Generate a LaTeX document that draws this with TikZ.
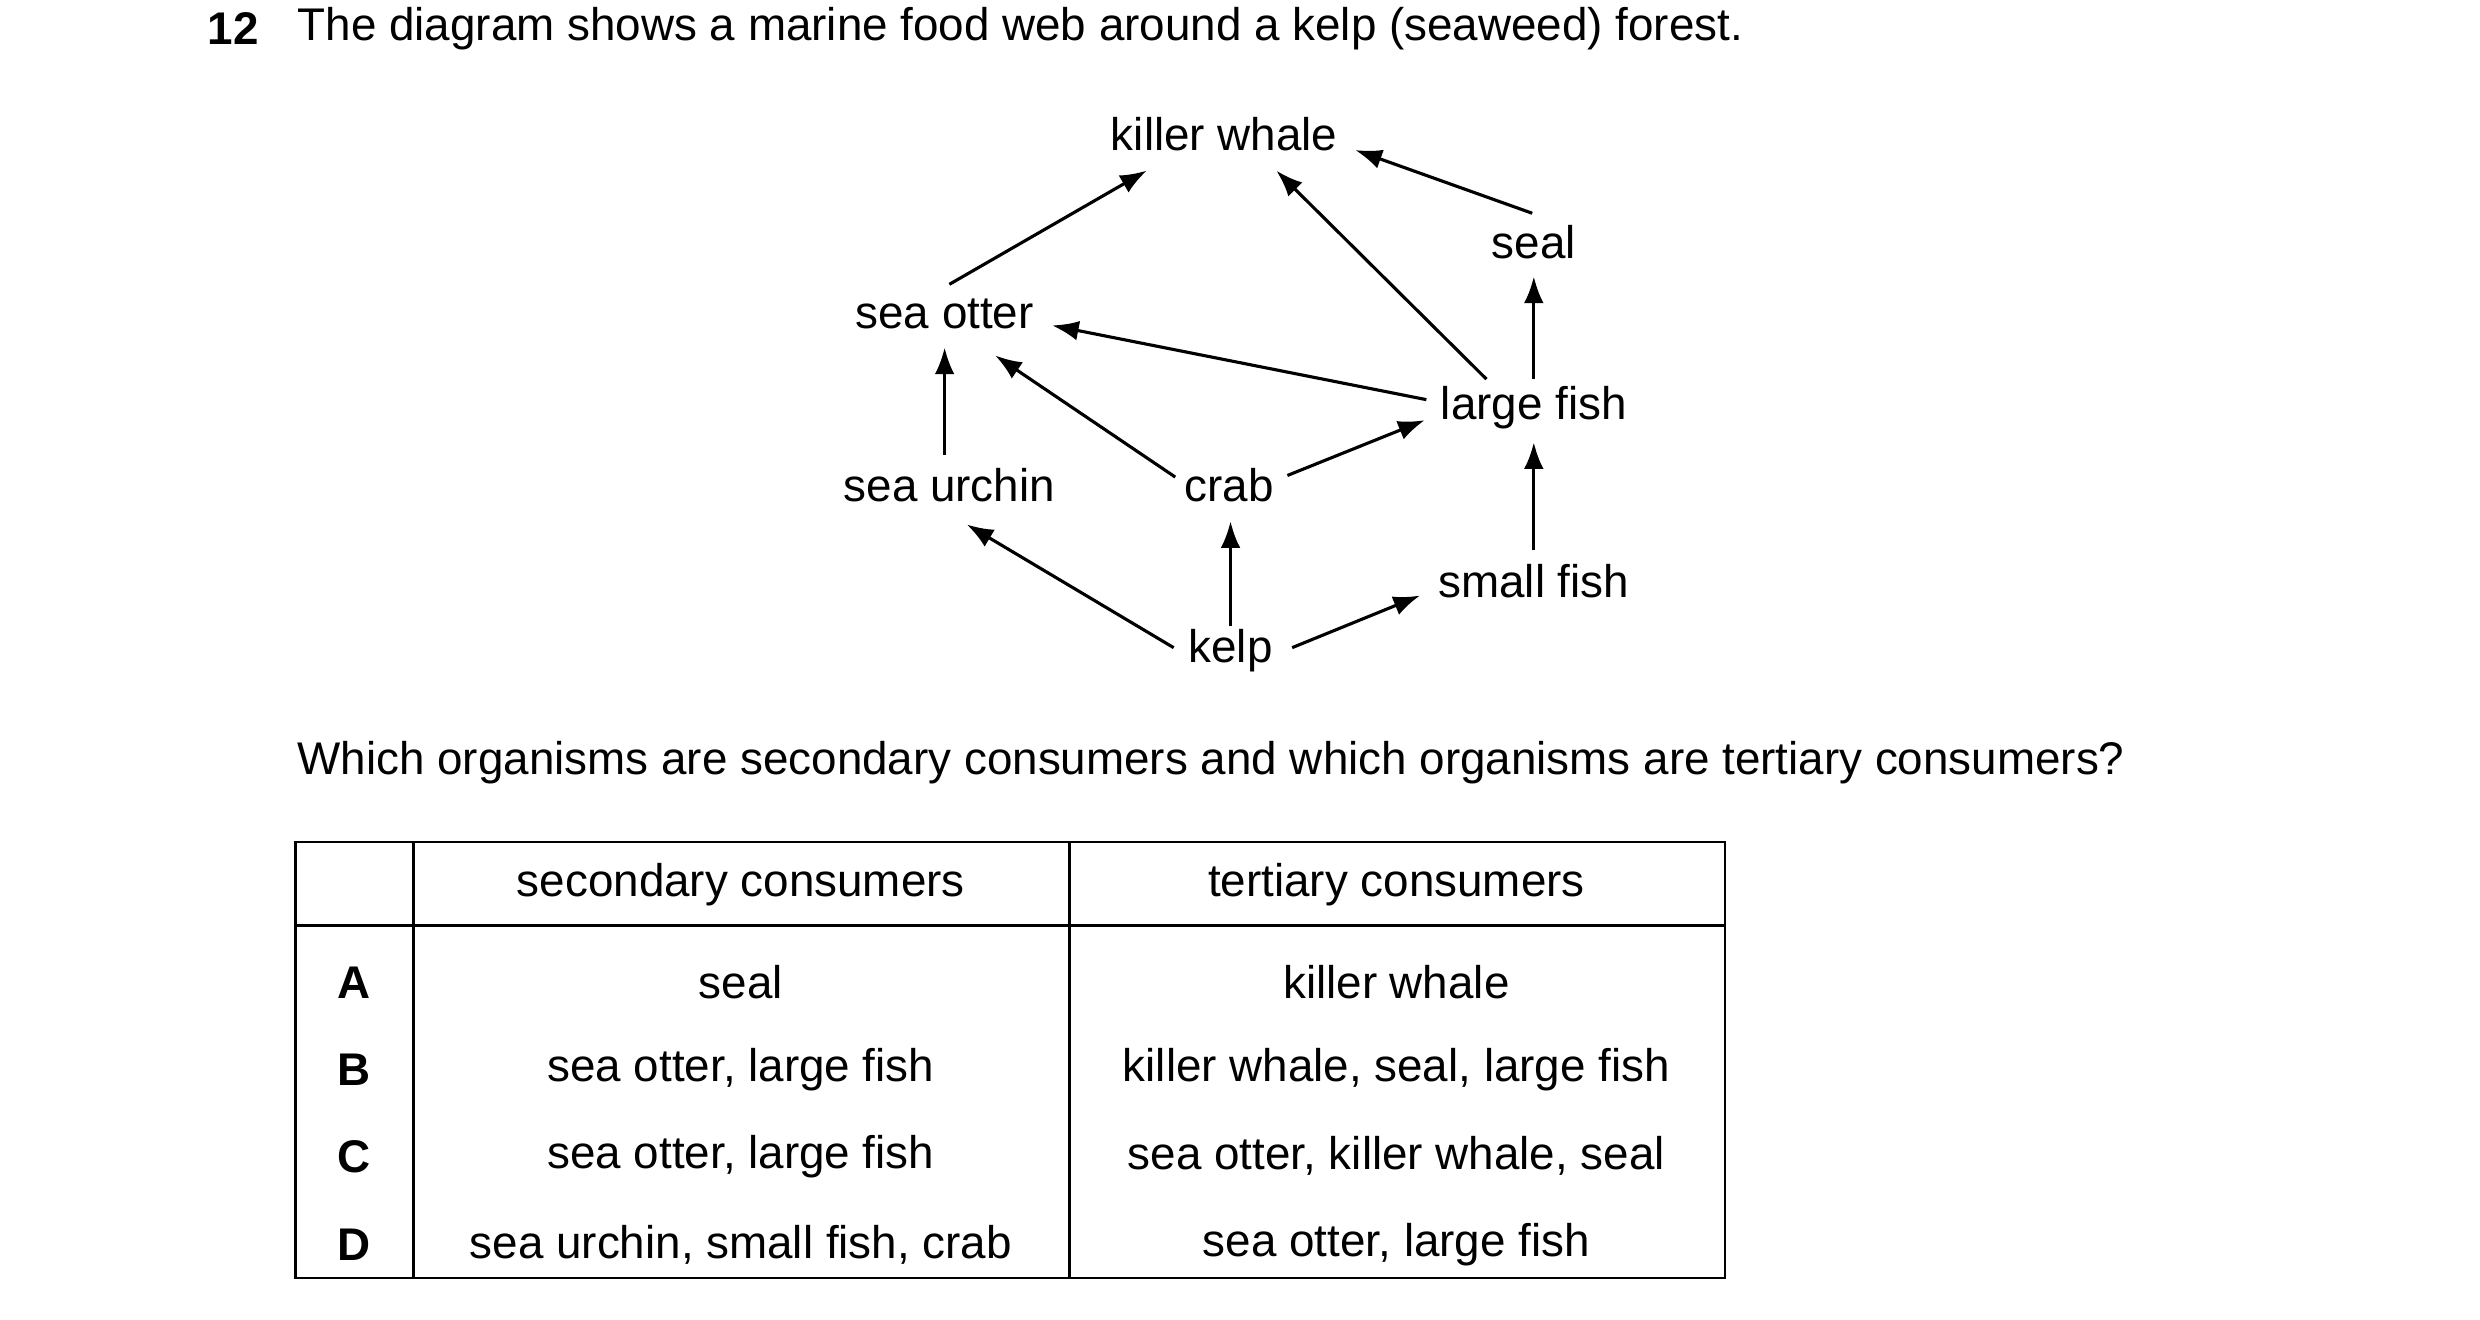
\documentclass[tikz,border=0pt]{standalone}
\usepackage{fontspec}
\setmainfont{Liberation Sans}
\usetikzlibrary{arrows.meta}
\begin{document}
\fontsize{13.2}{16}\selectfont
\begin{tikzpicture}[x=0.016cm,y=-0.016cm,
  lab/.style={inner sep=0pt,font=\fontsize{13.2}{16}\selectfont},
  arr/.style={line width=0.9pt,-{Latex[length=0.27cm,width=0.2cm]}},
  grid/.style={line width=0.8pt}]
\useasboundingbox (0,0) rectangle (1570,835.5);
\node[lab,anchor=west] (num) at (131,18) {\textbf{12}};
\node[lab,anchor=west] (title) at (188,18) {The diagram shows a marine food web around a kelp (seaweed) forest.};
\node[lab] (kw) at (775,85) {killer whale};
\node[lab] (seal) at (971,153) {seal};
\node[lab] (so) at (598,199) {sea otter};
\node[lab] (lf) at (971,258) {large fish};
\node[lab] (su) at (601,307) {sea urchin};
\node[lab] (crab) at (778,307) {crab};
\node[lab] (sf) at (971,368) {small fish};
\node[lab] (kelp) at (779,412) {kelp};
\draw[arr] ([shift={(3,-19)}]so.center) -- ([shift={(-49,23)}]kw.center);
\draw[arr] ([shift={(-30,-18)}]lf.center) -- ([shift={(33,23)}]kw.center);
\draw[arr] ([shift={(-1,-18)}]seal.center) -- ([shift={(83,10)}]kw.center);
\draw[arr] ([shift={(0,-18)}]lf.center) -- ([shift={(0,22)}]seal.center);
\draw[arr] ([shift={(-68,-5)}]lf.center) -- ([shift={(68,7)}]so.center);
\draw[arr] ([shift={(-34,-5)}]crab.center) -- ([shift={(32,26)}]so.center);
\draw[arr] ([shift={(-3,-19)}]su.center) -- ([shift={(0,21)}]so.center);
\draw[arr] ([shift={(37,-6)}]crab.center) -- ([shift={(-69,8)}]lf.center);
\draw[arr] ([shift={(0,-20)}]sf.center) -- ([shift={(0,22)}]lf.center);
\draw[arr] ([shift={(-36,-2)}]kelp.center) -- ([shift={(11,25)}]su.center);
\draw[arr] ([shift={(0,-16)}]kelp.center) -- ([shift={(1,23)}]crab.center);
\draw[arr] ([shift={(39,-2)}]kelp.center) -- ([shift={(-72,9)}]sf.center);
\node[lab,anchor=west] (q) at (188,483) {Which organisms are secondary consumers and which organisms are tertiary consumers?};
% table
\draw[grid] (187,533) rectangle (1092,809);
\draw[grid] (262,533) -- (262,809);
\draw[grid] (677,533) -- (677,809);
\draw[grid] (187,586) -- (1092,586);
\node[lab] (h1) at (469,560) {secondary consumers};
\node[lab] (h2) at (884,560) {tertiary consumers};
\node[lab] (la) at (224,622) {\textbf{A}};
\node[lab] (lb) at (224,677) {\textbf{B}};
\node[lab] (lc) at (224,732) {\textbf{C}};
\node[lab] (ld) at (224,788) {\textbf{D}};
\node[lab] (a1) at (469,622) {seal};
\node[lab] (a2) at (884,622) {killer whale};
\node[lab] (b1) at (469,677) {sea otter, large fish};
\node[lab] (b2) at (884,677) {killer whale, seal, large fish};
\node[lab] (c1) at (469,732) {sea otter, large fish};
\node[lab] (c2) at (884,732) {sea otter, killer whale, seal};
\node[lab] (d1) at (469,788) {sea urchin, small fish, crab};
\node[lab] (d2) at (884,788) {sea otter, large fish};
\end{tikzpicture}
\end{document}
